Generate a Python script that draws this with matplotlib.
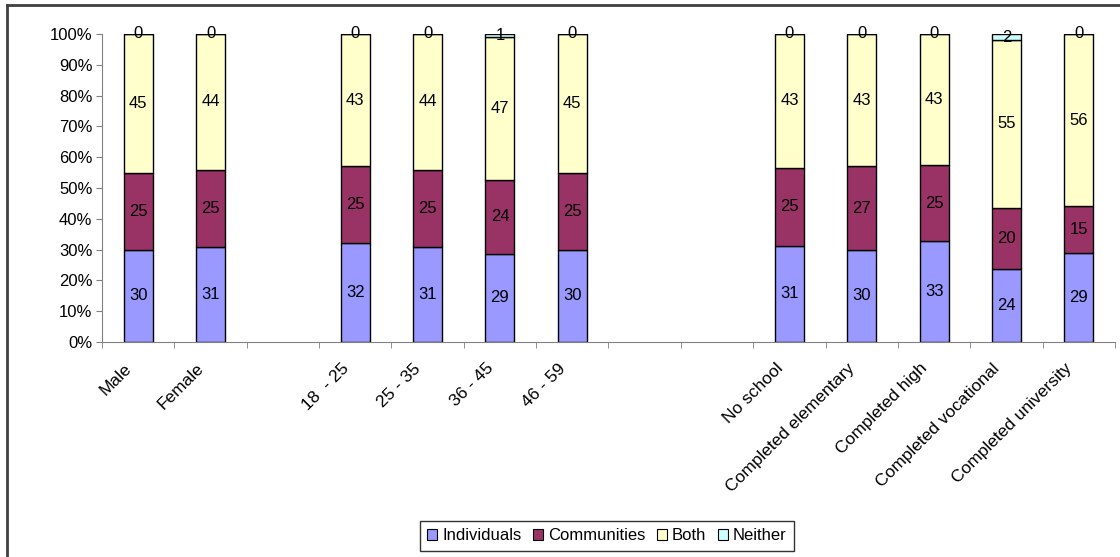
import numpy as np
import matplotlib
matplotlib.use("Agg")
import matplotlib.pyplot as plt
import matplotlib.transforms as mtransforms
from matplotlib.patches import Patch
from matplotlib.lines import Line2D

plt.rcParams["font.family"] = ["Liberation Sans", "DejaVu Sans"]

# empty strings are the gaps between the groups
categories = ["Male", "Female", "", "18  - 25", "25 - 35", "36 - 45", "46 - 59", "", "",
              "No school", "Completed elementary", "Completed high",
              "Completed vocational", "Completed university"]
nan = np.nan
individuals = [30, 31, nan, 32, 31, 29, 30, nan, nan, 31, 30, 33, 24, 29]
communities = [25, 25, nan, 25, 25, 24, 25, nan, nan, 25, 27, 25, 20, 15]
both = [45, 44, nan, 43, 44, 47, 45, nan, nan, 43, 43, 43, 55, 56]
neither = [0, 0, nan, 0, 0, 1, 0, nan, nan, 0, 0, 0, 2, 0]

series = [("Individuals", individuals, "#9999FF"),
          ("Communities", communities, "#993366"),
          ("Both", both, "#FFFFCC"),
          ("Neither", neither, "#CCFFFF")]

vals = np.array([s[1] for s in series], dtype=float)
totals = np.nansum(vals, axis=0)
pct = np.where(totals > 0, vals / np.where(totals > 0, totals, 1) * 100, 0)

FS = 12

fig = plt.figure(figsize=(11.2, 5.57), dpi=100)
ax = fig.add_axes([102 / 1120, 1 - 342 / 557, (1115 - 102) / 1120, (342 - 34) / 557])

x = np.arange(len(categories))
bottom = np.zeros(len(categories))
for i, (name, raw, color) in enumerate(series):
    h = pct[i]
    mask = ~np.isnan(vals[i])
    ax.bar(x[mask], h[mask], 0.4, bottom=bottom[mask], color=color,
           edgecolor="black", linewidth=1)
    for xi in x[mask]:
        ax.text(xi, bottom[xi] + h[xi] / 2, f"{int(vals[i][xi])}",
                ha="center", va="center", fontsize=FS)
    bottom = bottom + np.nan_to_num(h)

ax.set_xlim(-0.5, len(categories) - 0.5)
ax.set_ylim(0, 100)
ax.set_yticks(np.arange(0, 101, 10))
ax.set_yticklabels([f"{v}%" for v in range(0, 101, 10)], fontsize=FS)

# category labels, rotated, drawn by hand so they can sit a little left of the bar
ax.set_xticks([])
lbl_trans = mtransforms.offset_copy(ax.get_xaxis_transform(), fig=fig,
                                    x=-9, y=-24, units="dots")
for xi, name in zip(x, categories):
    ax.text(xi, 0, name, transform=lbl_trans, rotation=45, ha="right", va="center",
            rotation_mode="anchor", fontsize=12.5)
ax.set_xticks(np.arange(-0.5, len(categories)), minor=True)
ax.tick_params(axis="x", which="minor", length=4, color="#808080")
ax.tick_params(axis="y", length=4, color="#808080", pad=3)

for side in ["top", "right"]:
    ax.spines[side].set_visible(False)
for side in ["left", "bottom"]:
    ax.spines[side].set_color("#808080")

handles = [Patch(facecolor=c, edgecolor="black", linewidth=0.8, label=n)
           for n, _, c in series]
leg = fig.legend(handles=handles, loc="center", ncol=4,
                 bbox_to_anchor=(607 / 1120, 1 - 536 / 557),
                 fontsize=FS, frameon=True, fancybox=False,
                 handlelength=0.6, handleheight=0.6, handletextpad=0.3,
                 columnspacing=0.7, borderpad=0.45, borderaxespad=0)
leg.get_frame().set_edgecolor("black")
leg.get_frame().set_linewidth(1)

# outer chart-area frame (only left and top edges show)
fig.add_artist(Line2D([7 / 1120, 7 / 1120], [0, 1 - 5 / 557], transform=fig.transFigure,
                      color="#404040", linewidth=2))
fig.add_artist(Line2D([7 / 1120, 1], [1 - 5 / 557, 1 - 5 / 557], transform=fig.transFigure,
                      color="#404040", linewidth=2))

fig.savefig("out.png", dpi=100)
